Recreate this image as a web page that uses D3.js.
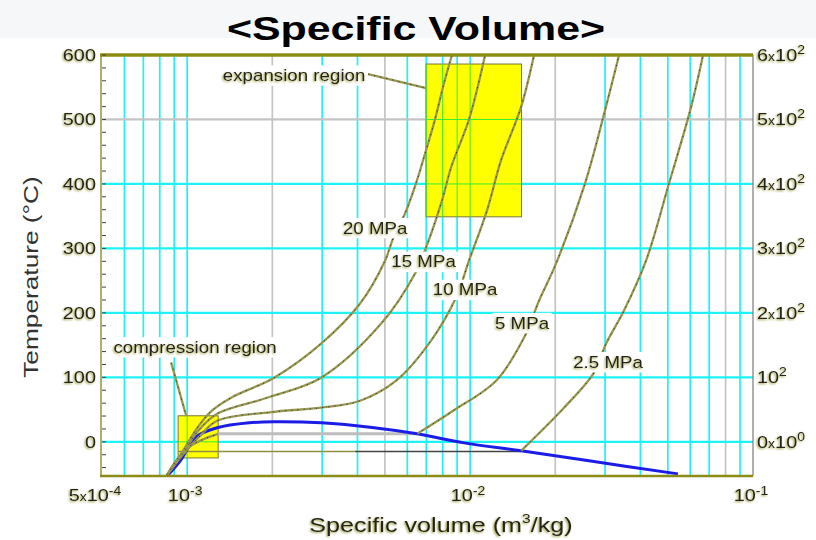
<!DOCTYPE html>
<html>
<head>
<meta charset="utf-8">
<title>Specific Volume</title>
<script src="https://cdn.jsdelivr.net/npm/d3@7"></script>
<style>
  body { margin: 0; background: #fff; }
  text { font-family: "Liberation Sans", Arial, sans-serif; }
</style>
</head>
<body>
<svg id="chart" width="816" height="540"></svg>
<script>
  // ---- data: [specific volume m3/kg, temperature C]
  const curve20 = [[8.5e-4, -51], [9.52e-4, -18.7], [1.08e-3, 20.2], [1.21e-3, 46.6], [1.43e-3, 68.4],
    [2.03e-3, 99.5], [2.975e-3, 152.3], [4.085e-3, 214.5], [5.01e-3, 281.4], [5.345e-3, 315.6],
    [5.89e-3, 354.4], [6.44e-3, 401], [6.99e-3, 452.4], [7.52e-3, 500.5], [8.09e-3, 556.5], [8.63e-3, 600]];
  const curve15 = [[8.5e-4, -51], [9.68e-4, -17.1], [1.094e-3, 17.1], [1.276e-3, 43.5], [1.918e-3, 68.4],
    [2.975e-3, 99.5], [4.85e-3, 183.4], [6.39e-3, 261.2], [6.99e-3, 301.6], [7.96e-3, 374.6],
    [8.57e-3, 425.9], [9.92e-3, 500.5], [1.13e-2, 600]];
  const curve10 = [[8.5e-4, -51], [9.84e-4, -15.5], [1.111e-3, 9.3], [1.276e-3, 32.6], [2.03e-3, 46.6],
    [2.975e-3, 52.9], [4.085e-3, 63.7], [5.477e-3, 94.8], [7.28e-3, 157], [8.92e-3, 223.8],
    [9.92e-3, 281.4], [1.148e-2, 359.1], [1.287e-2, 436.8], [1.514e-2, 519.2], [1.683e-2, 600]];
  const curve5Liquid = [[8.5e-4, -51], [9.84e-4, -12.4], [1.11e-3, 1.6], [1.287e-3, 12.4]];
  const curve5Vapor = [[6.5e-3, 12.4], [8.71e-3, 48.2], [1.236e-2, 94.8], [1.552e-2, 161.7], [1.754e-2, 219.2],
    [2.014e-2, 276.7], [2.549e-2, 401], [3.0e-2, 514.5], [3.362e-2, 600]];
  const curve25Liquid = [[8.5e-4, -51], [9.3e-4, -25], [9.9e-4, -15.5]];
  const curve25Vapor = [[1.514e-2, -14], [2.148e-2, 52.9], [2.742e-2, 107.3], [3.024e-2, 152.3], [3.5e-2, 203.6],
    [4.19e-2, 281.4], [5.05e-2, 401], [6.04e-2, 519.2], [6.66e-2, 600]];
  const domeCurve = [[8.5e-4, -52.9], [9.45e-4, -29.5], [1.076e-3, 7.8], [1.276e-3, 21.8], [1.656e-3, 29.5],
    [2.03e-3, 31.1], [2.975e-3, 29.5], [4.58e-3, 21.8], [6.5e-3, 12.4], [9.52e-3, -1.6],
    [1.514e-2, -14], [2.633e-2, -29.5], [5.43e-2, -49.7]];
  // two-phase plateaus: [v start, v end, T]
  const plateau5 = [1.287e-3, 6.5e-3, 12.4];
  const plateau25a = [9.29e-4, 3.92e-3, -15];
  const plateau25b = [3.92e-3, 1.514e-2, -15];

  const pressureLabels = ['20 MPa', '15 MPa', '10 MPa', '5 MPa', '2.5 MPa'];
  const pressureLabelAt = [[4.62e-3, 323], [6.85e-3, 270.5], [9.6e-3, 227], [1.526e-2, 175.7], [3.073e-2, 115]];

  // regions: [v min, v max, T min, T max]
  const expansionBox = [6.99e-3, 1.52e-2, 349, 586];
  const compressionBox = [9.29e-4, 1.287e-3, -25, 40.4];

  const xTickVals = [5e-4, 1e-3, 1e-2, 1e-1];
  const xTickMant = ['5', '', '', ''];
  const xTickExp = ['-4', '-3', '-2', '-1'];
  const yTickVals = [0, 100, 200, 300, 400, 500, 600];
  const rightMant = ['0', '', '2', '3', '4', '5', '6'];
  const rightExp = ['0', '2', '2', '2', '2', '2', '2'];

  const gridV = [6e-4, 7e-4, 8e-4, 9e-4, 1e-3, 2e-3, 3e-3, 4e-3, 5e-3, 6e-3, 7e-3, 8e-3, 9e-3,
    1e-2, 2e-2, 3e-2, 4e-2, 5e-2, 6e-2, 7e-2, 8e-2, 9e-2];
  const grayV = [2e-3, 5e-3, 2e-2, 8e-2];
  const gridT = [0, 100, 200, 300, 400, 500];
  const grayT = [500];

  // ---- scales
  const x = d3.scaleLog().domain([5e-4, 1e-1]).range([102, 753]);
  const y = d3.scaleLinear().domain([-53, 600]).range([476, 55]);

  const svg = d3.select('#chart');
  const defs = svg.append('defs');

  const f = defs.append('filter').attr('id', 'olv')
    .attr('x', '-10%').attr('y', '-30%').attr('width', '120%').attr('height', '160%');
  f.append('feGaussianBlur').attr('in', 'SourceAlpha').attr('stdDeviation', 0.9).attr('result', 'b');
  f.append('feOffset').attr('in', 'b').attr('dx', -0.6).attr('dy', 0.6).attr('result', 'o');
  f.append('feFlood').attr('flood-color', '#8d8d1e').attr('flood-opacity', 0.9);
  f.append('feComposite').attr('in2', 'o').attr('operator', 'in').attr('result', 's');
  const fm = f.append('feMerge');
  fm.append('feMergeNode').attr('in', 's');
  fm.append('feMergeNode').attr('in', 'SourceGraphic');

  const clip = defs.append('clipPath').attr('id', 'boxes');
  [expansionBox, compressionBox].forEach(b => {
    clip.append('rect')
      .attr('x', x(b[0])).attr('y', y(b[3]))
      .attr('width', x(b[1]) - x(b[0])).attr('height', y(b[2]) - y(b[3]));
  });

  // text that is a bit wider than the font, like the picture
  function stext(parent, px, py, size, sx, anchor) {
    const g = parent.append('g').attr('transform', `translate(${px},${py}) scale(${sx},1)`);
    const t = g.append('text')
      .attr('text-anchor', anchor || 'start')
      .attr('font-size', size).attr('fill', '#222');
    return t;
  }

  // title band
  svg.append('rect').attr('width', 816).attr('height', 38).attr('fill', '#f6f7f9');
  stext(svg, 416, 40, 33, 1.3, 'middle')
    .attr('font-weight', 'bold').attr('fill', '#000')
    .text('<Specific Volume>');

  // ---- grid
  function drawGrid(g, inside) {
    g.selectAll('.vg').data(gridV).enter().append('line')
      .attr('x1', d => x(d)).attr('x2', d => x(d))
      .attr('y1', y(600)).attr('y2', y(-53))
      .attr('stroke', d => inside ? '#33ee33' : (grayV.includes(d) ? '#c4c4c4' : '#1ef2f6'))
      .attr('stroke-width', inside ? 1 : 1.7);
    g.selectAll('.hg').data(gridT).enter().append('line')
      .attr('x1', x(5e-4)).attr('x2', x(1e-1))
      .attr('y1', d => y(d)).attr('y2', d => y(d))
      .attr('stroke', d => inside ? '#33ee33' : (grayT.includes(d) ? '#c4c4c4' : '#1ef2f6'))
      .attr('stroke-width', inside ? 1 : 2.3);
  }
  drawGrid(svg.append('g'), false);

  // regions
  [expansionBox, compressionBox].forEach(b => {
    svg.append('rect')
      .attr('x', x(b[0])).attr('y', y(b[3]))
      .attr('width', x(b[1]) - x(b[0])).attr('height', y(b[2]) - y(b[3]))
      .attr('fill', '#ffff00')
      .attr('stroke', '#77773a').attr('stroke-width', 1);
  });
  drawGrid(svg.append('g').attr('clip-path', 'url(#boxes)'), true);

  // ---- plateaus
  svg.append('line')
    .attr('x1', x(plateau5[0])).attr('x2', x(plateau5[1]))
    .attr('y1', y(plateau5[2])).attr('y2', y(plateau5[2]))
    .attr('stroke', '#bdbdbd').attr('stroke-width', 3);
  svg.append('line')
    .attr('x1', x(plateau25a[0])).attr('x2', x(plateau25a[1]))
    .attr('y1', y(plateau25a[2])).attr('y2', y(plateau25a[2]))
    .attr('stroke', '#8e8e40').attr('stroke-width', 1.4);
  svg.append('line')
    .attr('x1', x(plateau25b[0])).attr('x2', x(plateau25b[1]))
    .attr('y1', y(plateau25b[2])).attr('y2', y(plateau25b[2]))
    .attr('stroke', '#444').attr('stroke-width', 1.4);

  // ---- curves
  const line = d3.line()
    .x(d => x(d[0]))
    .y(d => y(d[1]))
    .curve(d3.curveCatmullRom.alpha(0.5));

  function isobar(data) {
    svg.append('path').attr('d', line(data))
      .attr('fill', 'none').attr('stroke', '#979750').attr('stroke-width', 2.3);
    svg.append('path').attr('d', line(data))
      .attr('fill', 'none').attr('stroke', '#2a2a2a').attr('stroke-width', 0.9)
      .attr('stroke-dasharray', '1.2 5');
  }

  svg.append('path').attr('d', line(domeCurve))
    .attr('fill', 'none').attr('stroke', '#1c1ce8').attr('stroke-width', 3);

  [curve20, curve15, curve10, curve5Liquid, curve5Vapor, curve25Liquid, curve25Vapor].forEach(isobar);

  // leaders
  isobar([[4.36e-3, 570.5], [expansionBox[0], 548.7]]);
  isobar([[8.78e-4, 122.8], [9.92e-4, compressionBox[3]]]);

  // ---- labels with white backing
  function label(txt, v, t) {
    const el = stext(svg, x(v), y(t), 16, 1.17, 'middle')
      .attr('filter', 'url(#olv)')
      .text(txt);
    const bb = el.node().getBBox();
    d3.select(el.node().parentNode).insert('rect', 'text')
      .attr('x', bb.x - 2).attr('y', bb.y - 1)
      .attr('width', bb.width + 4).attr('height', bb.height + 2)
      .attr('fill', '#fff');
  }
  pressureLabels.forEach((l, i) => label(l, pressureLabelAt[i][0], pressureLabelAt[i][1]));
  label('expansion region', 2.388e-3, 559.6);
  label('compression region', 1.067e-3, 138);

  // ---- frame
  svg.append('line')
    .attr('x1', x(1e-1)).attr('x2', x(1e-1)).attr('y1', y(600)).attr('y2', y(-53))
    .attr('stroke', '#7a7a7a').attr('stroke-width', 1.2);
  svg.append('line')
    .attr('x1', x(5e-4) - 1).attr('x2', x(5e-4) - 1).attr('y1', y(600)).attr('y2', y(-53))
    .attr('stroke', '#9a9a4a').attr('stroke-width', 1.6);
  svg.append('line')
    .attr('x1', x(5e-4) - 2).attr('x2', x(1e-1)).attr('y1', y(600)).attr('y2', y(600))
    .attr('stroke', '#8c8c14').attr('stroke-width', 3.5);
  svg.append('line')
    .attr('x1', x(5e-4) - 2).attr('x2', x(1e-1)).attr('y1', y(-53)).attr('y2', y(-53))
    .attr('stroke', '#8c8c14').attr('stroke-width', 2.5);

  // left minor ticks
  svg.selectAll('.mt').data(d3.range(-40, 601, 20)).enter().append('line')
    .attr('x1', x(5e-4)).attr('x2', x(5e-4) + 4)
    .attr('y1', d => y(d)).attr('y2', d => y(d))
    .attr('stroke', '#444').attr('stroke-width', 1);

  // left labels
  yTickVals.forEach(d => {
    stext(svg, 96, y(d) + 6, 17, 1.17, 'end')
      .attr('filter', 'url(#olv)')
      .text(d);
  });

  // right labels
  yTickVals.forEach((d, i) => {
    const t = stext(svg, 757, y(d) + 6, 17, 1.17, 'start')
      .attr('filter', 'url(#olv)');
    if (rightMant[i]) {
      t.append('tspan').text(rightMant[i]);
      t.append('tspan').attr('font-size', 12).text('x');
    }
    t.append('tspan').text('10');
    t.append('tspan').attr('font-size', 12).attr('dy', -7).text(rightExp[i]);
  });

  // x labels
  xTickVals.forEach((d, i) => {
    const t = stext(svg, x(d) - (i === 0 ? 7 : 2), 501, 17, 1.17, 'middle')
      .attr('filter', 'url(#olv)');
    if (xTickMant[i]) {
      t.append('tspan').text(xTickMant[i]);
      t.append('tspan').attr('font-size', 12).text('x');
    }
    t.append('tspan').text('10');
    t.append('tspan').attr('font-size', 12).attr('dy', -6).text(xTickExp[i]);
  });

  // axis titles
  const xt = stext(svg, 441, 532, 21, 1.2, 'middle')
    .attr('filter', 'url(#olv)');
  xt.append('tspan').text('Specific volume (m');
  xt.append('tspan').attr('font-size', 13).attr('dy', -9).text('3');
  xt.append('tspan').attr('dy', 9).text('/kg)');

  svg.append('g')
    .attr('transform', 'translate(38, 277) rotate(-90) scale(1.25,1)')
    .append('text')
    .attr('text-anchor', 'middle')
    .attr('font-size', 21).attr('fill', '#333')
    .text('Temperature (°C)');
</script>
</body>
</html>
